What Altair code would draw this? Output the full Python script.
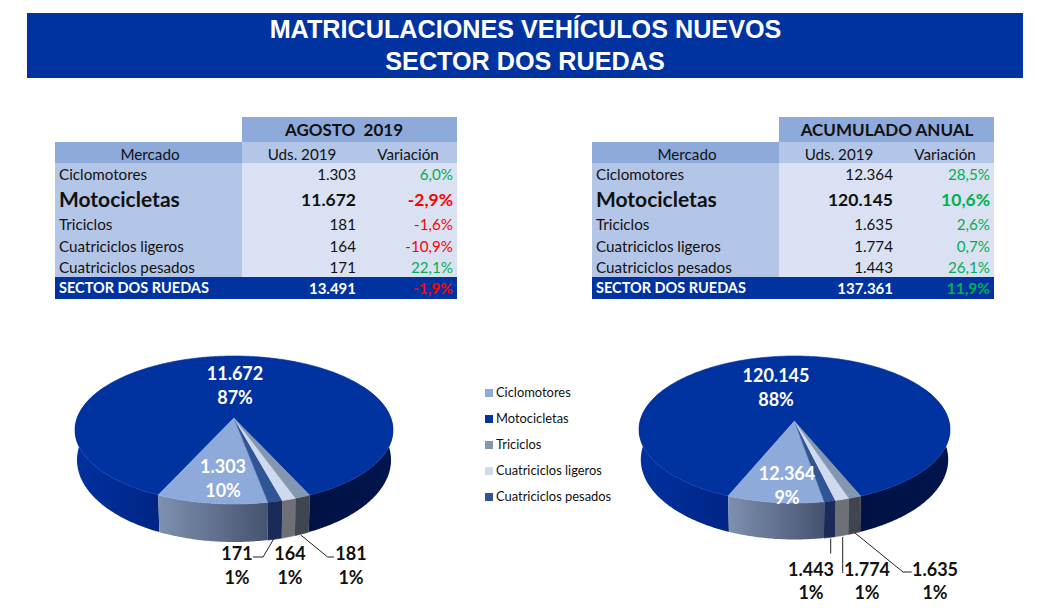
import math
import altair as alt
import pandas as pd

# ---------- data ----------
CATEGORIES = ["Ciclomotores", "Motocicletas", "Triciclos", "Cuatriciclos ligeros", "Cuatriciclos pesados"]
TOTAL_LABEL = "SECTOR DOS RUEDAS"
AGOSTO_UDS = [1303, 11672, 181, 164, 171]
AGOSTO_VAR = [6.0, -2.9, -1.6, -10.9, 22.1]
AGOSTO_PCT = [10, 87, 1, 1, 1]
AGOSTO_TOTAL = 13491
AGOSTO_TOTAL_VAR = -1.9
ANUAL_UDS = [12364, 120145, 1635, 1774, 1443]
ANUAL_VAR = [28.5, 10.6, 2.6, 0.7, 26.1]
ANUAL_PCT = [9, 88, 1, 1, 1]
ANUAL_TOTAL = 137361
ANUAL_TOTAL_VAR = 11.9
TITLE_LINES = ["MATRICULACIONES VEHÍCULOS NUEVOS", "SECTOR DOS RUEDAS"]
HEADERS = ["Mercado", "Uds. 2019", "Variación"]

# ---------- styles ----------
BLUE = "#0033A0"
HEAD = "#8EAADB"
MID = "#B4C6E7"
LIGHT = "#D9E1F2"
GREEN = "#00B050"
RED = "#FF0000"
INK = "#111111"
FONT = "Lato"
TOP = {"Ciclomotores": "#8EAADB", "Motocicletas": "#0033A0", "Triciclos": "#8497B0",
       "Cuatriciclos ligeros": "#D0DAEE", "Cuatriciclos pesados": "#2F5597"}
SIDE = {"Cuatriciclos pesados": "#1B2B58", "Cuatriciclos ligeros": "#6E7078", "Triciclos": "#3F464F"}

W, H = 1034, 594
X = alt.X("x:Q", scale=alt.Scale(domain=[8, 8 + W], nice=False, zero=False), axis=None)
Y = alt.Y("y:Q", scale=alt.Scale(domain=[8 + H, 8], nice=False, zero=False), axis=None)
layers = []


def rects(rows, color):
    df = pd.DataFrame(rows, columns=["x", "x2", "y", "y2"])
    layers.append(alt.Chart(df).mark_rect(color=color, strokeWidth=0).encode(
        x=X, x2=alt.X2("x2:Q"), y=Y, y2=alt.Y2("y2:Q")))


def texts(rows, weight="normal", align="center", font=FONT):
    df = pd.DataFrame(rows, columns=["x", "y", "t", "fs", "c"])
    layers.append(alt.Chart(df).mark_text(font=font, fontWeight=weight, align=align, baseline="middle").encode(
        x=X, y=Y, text="t:N", size=alt.Size("fs:Q", scale=None, legend=None),
        color=alt.Color("c:N", scale=None, legend=None)))


def poly(points, fill):
    df = pd.DataFrame([{"x": p[0], "y": p[1], "i": i} for i, p in enumerate(points)])
    if isinstance(fill, str):
        mark = alt.Chart(df).mark_line(fill=fill, color=fill, strokeWidth=0.6)
    else:
        mark = alt.Chart(df).mark_line(fill=fill, strokeWidth=0, strokeOpacity=0)
    layers.append(mark.encode(x=X, y=Y, order=alt.Order("i:Q")))


def grad(c0, c1):
    return {"gradient": "linear", "x1": 0, "y1": 0, "x2": 1, "y2": 0,
            "stops": [{"offset": 0, "color": c0}, {"offset": 1, "color": c1}]}


def leader(points):
    df = pd.DataFrame([{"x": p[0], "y": p[1], "i": i} for i, p in enumerate(points)])
    layers.append(alt.Chart(df).mark_line(color="#222222", strokeWidth=1).encode(
        x=X, y=Y, order=alt.Order("i:Q")))


def es_int(v):
    return f"{v:,}".replace(",", ".")


def es_pct(v):
    return f"{v:.1f}%".replace(".", ",")


# ---------- banner ----------
rects([(27, 1023, 13, 78)], BLUE)
texts([(525.5, 29.5, TITLE_LINES[0], 25.2, "white"), (525, 61.5, TITLE_LINES[1], 25.2, "white")],
      weight="bold", font="Liberation Sans")


# ---------- tables ----------
def table(x0, title, title_cx, title_fs, uds, var, total, total_var):
    xc, xr = x0 + 187, x0 + 402
    rects([(x0, xc, 142, 163), (xc, xr, 117, 142)], HEAD)
    rects([(xc, xr, 142, 163), (x0, xc, 163, 277)], MID)
    rects([(xc, xr, 163, 277)], LIGHT)
    rects([(x0, xr, 277, 299)], BLUE)
    ys = [175, 201, 225, 247, 268]
    ur, vr = x0 + 301, x0 + 398
    fs = 15.2
    texts([(title_cx, 131, title, title_fs, INK)], weight="bold")
    texts([(x0 + 95, 155, HEADERS[0], fs, INK), (x0 + 247, 155, HEADERS[1], fs, INK),
           (x0 + 353, 155, HEADERS[2], fs, INK)])
    normal_l, normal_r = [], []
    for i, c in enumerate(CATEGORIES):
        col = GREEN if var[i] >= 0 else RED
        if c == "Motocicletas":
            continue
        normal_l.append((x0 + 4, ys[i], c, fs, INK))
        normal_r.append((ur, ys[i], es_int(uds[i]), fs, INK))
        normal_r.append((vr, ys[i], es_pct(var[i]), fs, col))
    texts(normal_l, align="left")
    texts(normal_r, align="right")
    texts([(x0 + 4, ys[1], CATEGORIES[1], 21, INK)], weight="bold", align="left")
    texts([(ur, ys[1], es_int(uds[1]), 17.5, INK),
           (vr, ys[1], es_pct(var[1]), 17.5, GREEN if var[1] >= 0 else RED)], weight="bold", align="right")
    texts([(x0 + 4, 289, TOTAL_LABEL, 14.5, "white")], weight="bold", align="left")
    texts([(ur, 289, es_int(total), 15, "white"),
           (vr, 289, es_pct(total_var), 15.5, GREEN if total_var >= 0 else RED)], weight="bold", align="right")


table(55, "AGOSTO\u00a0\u00a02019", 344, 17, AGOSTO_UDS, AGOSTO_VAR, AGOSTO_TOTAL, AGOSTO_TOTAL_VAR)
table(592, "ACUMULADO ANUAL", 887, 17, ANUAL_UDS, ANUAL_VAR, ANUAL_TOTAL, ANUAL_TOTAL_VAR)


# ---------- 3D pies: slice angles come from the values ----------
def pie(values, cx, apex_y, front, back, rx, bot_rx, bot_ry):
    order = [0, 4, 3, 2]  # front slices, left to right
    total = sum(values)
    span = sum(values[i] for i in order) / total * 360
    c = (back - front) / (back + front)
    a = front * (1 + c)
    R = rx * math.sqrt(1 - c * c)
    cy = apex_y + (front - back) / 2
    ry = (front + back) / 2

    def top(phi):
        s, k = math.sin(math.radians(phi)), math.cos(math.radians(phi))
        d = 1 + c * k
        return cx + R * s / d, apex_y + a * k / d

    def bot(phi):
        x, y = top(phi)
        return cx + (x - cx) * bot_rx / rx, cy + 30 + (y - cy) * bot_ry / ry

    def arc(p0, p1, f):
        n = max(3, int(abs(p1 - p0) * 1.5))
        return [f(p0 + (p1 - p0) * j / n) for j in range(n + 1)]

    def side(p0, p1, fill):
        poly(arc(p0, p1, top) + arc(p1, p0, bot), fill)

    start = -span / 2
    # side walls
    side(-118, start, grad("#0031A0", "#002585"))
    side(-start, 118, grad("#001244", "#00154E"))
    p = start
    bounds = []
    for i in order:
        q = p + values[i] / total * 360
        bounds.append((i, p, q))
        p = q
    for i, p0, p1 in bounds:
        cat = CATEGORIES[i]
        if cat == "Ciclomotores":
            side(p0, p1, grad("#7E90B0", "#46536F"))
        else:
            side(p0, p1, SIDE[cat])
    # top faces
    apex = (cx, apex_y)
    poly([apex] + arc(-start, 360 + start, top), TOP["Motocicletas"])
    for i, p0, p1 in bounds:
        poly([apex] + arc(p0, p1, top), TOP[CATEGORIES[i]])


pie(AGOSTO_UDS, 234, 418, 86, 62, 159, 157, 82)
pie(ANUAL_UDS, 794.5, 421, 82, 65, 155.5, 153.7, 80)

# leader lines
leader([(273.7, 539), (263, 557), (253, 557)])
leader([(300.7, 535), (327.7, 557), (334, 557)])
leader([(830.7, 538.5), (830.7, 553.5)])
leader([(842.7, 537), (842.7, 573)])
leader([(855, 533), (903, 572), (911.7, 572)])

# pie labels
a, b = AGOSTO_UDS, ANUAL_UDS
pa, pb = AGOSTO_PCT, ANUAL_PCT
lab = 18
texts([(235, 375, es_int(a[1]), lab, "white"), (235, 399, f"{pa[1]}%", lab, "white"),
       (223, 468, es_int(a[0]), lab, "white"), (223, 492, f"{pa[0]}%", lab, "white"),
       (776, 377, es_int(b[1]), lab, "white"), (776, 401, f"{pb[1]}%", lab, "white"),
       (787, 475, es_int(b[0]), lab, "white"), (787, 499, f"{pb[0]}%", lab, "white"),
       (237, 555, es_int(a[4]), lab, INK), (237, 579, f"{pa[4]}%", lab, INK),
       (290, 555, es_int(a[3]), lab, INK), (290, 579, f"{pa[3]}%", lab, INK),
       (351, 555, es_int(a[2]), lab, INK), (351, 579, f"{pa[2]}%", lab, INK),
       (811, 570.5, es_int(b[4]), lab, INK), (811, 593.5, f"{pb[4]}%", lab, INK),
       (867, 570.5, es_int(b[3]), lab, INK), (867, 593.5, f"{pb[3]}%", lab, INK),
       (935, 570.5, es_int(b[2]), lab, INK), (935, 593.5, f"{pb[2]}%", lab, INK)], weight="bold")

# legend
leg_y = [393, 419, 445, 471, 497]
for cat, y in zip(CATEGORIES, leg_y):
    rects([(485, 493, y - 4, y + 4)], TOP[cat])
texts([(496, y, cat, 12.9, INK) for cat, y in zip(CATEGORIES, leg_y)], align="left")

chart = alt.layer(*layers).properties(
    width=W, height=H, padding=0, autosize=alt.AutoSizeParams(type="none"),
    background="white"
).configure_view(stroke=None)

chart.save("out.html", embed_options={"renderer": "svg", "actions": False})
